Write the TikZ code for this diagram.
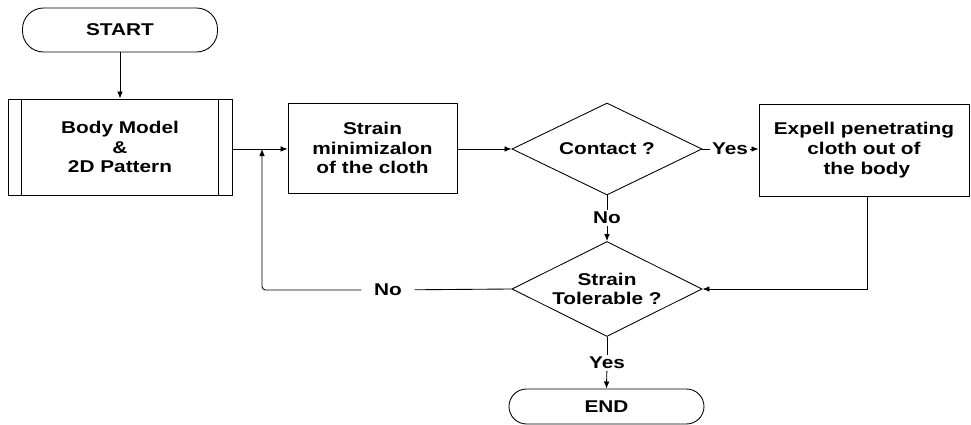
\documentclass[tikz,border=0pt]{standalone}
\usepackage{fontspec}
\setmainfont{Liberation Sans}[FakeStretch=1.22]
\usetikzlibrary{shapes.geometric,arrows.meta}

\begin{document}
\begin{tikzpicture}[
    >={Latex[length=4pt,width=3.2pt]},
    line width=0.5pt,
    txt/.style={font=\fontsize{9.7}{11.2}\selectfont\bfseries, align=center, text=black},
    procbox/.style={rectangle, draw, txt},
    terminal/.style={rectangle, draw, rounded corners=0.42cm, txt},
    decision/.style={diamond, draw, aspect=2, inner sep=0pt, txt},
    lbl/.style={txt, inner sep=1pt}
  ]
  \useasboundingbox (0,0) rectangle (19.42,-8.5);
  % Nodes
  \node (start) [terminal, minimum width=3.9cm, minimum height=0.88cm] at (2.40,-0.60) {START};
  \node (body) [procbox, minimum width=4.48cm, minimum height=1.92cm] at (2.40,-2.94) {Body Model\\\&\\2D Pattern};
  \node (strain) [procbox, minimum width=3.38cm, minimum height=1.80cm] at (7.45,-2.96) {Strain\\minimizalon\\of the cloth};
  \node (contact) [decision, minimum width=3.8cm, minimum height=1.84cm] at (12.14,-2.98) {Contact ?};
  \node (expell) [procbox, minimum width=4.2cm, minimum height=1.84cm] at (17.28,-3.0) {Expell penetrating\\cloth out of\\\ the body};
  \node (tol) [decision, minimum width=3.8cm, minimum height=1.90cm] at (12.14,-5.78) {Strain\\Tolerable ?};
  \node (end) [terminal, minimum width=3.9cm, minimum height=0.70cm, rounded corners=0.35cm] at (12.13,-8.13) {END};
  % Labels
  \node (yes1) [lbl] at (14.60,-2.98) {Yes};
  \node (no1) [lbl] at (12.14,-4.36) {No};
  \node (no2) [lbl, inner xsep=7pt] at (7.76,-5.80) {No};
  \node (yes2) [lbl] at (12.14,-7.26) {Yes};
  \coordinate (join) at (5.24,-2.98);
  % Inner sides of the body box
  \draw ([xshift=0.28cm]body.north west) -- ([xshift=0.28cm]body.south west);
  \draw ([xshift=-0.28cm]body.north east) -- ([xshift=-0.28cm]body.south east);
  % Arrows
  \draw[->] (start) -- (body);
  \draw[->] (body.east |- join) -- (strain.west |- join);
  \draw[->] (strain.east |- contact.west) -- (contact.west);
  \draw (contact.east) -- (yes1);
  \draw[->] (yes1) -- (expell.west |- yes1);
  \draw (contact.south) -- (no1);
  \draw[->] (no1) -- (tol.north);
  \draw[->] ([xshift=0.06cm]expell.south) |- (tol.east);
  \draw (tol.west) -- (no2);
  \draw[->, rounded corners=2pt] (no2) -- (no2 -| join) -- (join);
  \draw (tol.south) -- (yes2);
  \draw[->] (yes2) -- (end.north);
\end{tikzpicture}
\end{document}
